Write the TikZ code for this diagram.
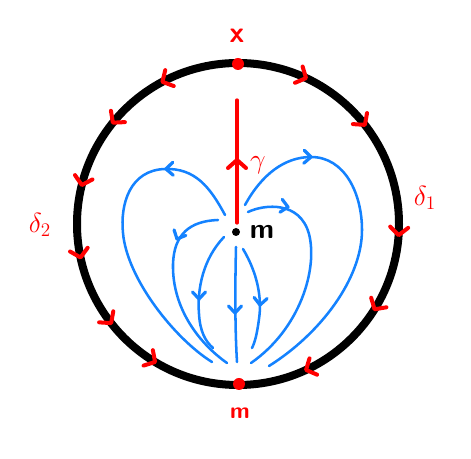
\documentclass[tikz,border=0pt]{standalone}
\usetikzlibrary{calc}
\definecolor{fieldblue}{RGB}{20,130,255}
\tikzset{
  redchev/.pic={\draw[red, line width=3pt, line cap=round, line join=round] (-8,9)--(0,0)--(-8,-9);},
  bluechev/.pic={\draw[fieldblue, line width=2.4pt, line cap=round, line join=round] (-7,6.5)--(0,0)--(-7,-6.5);},
  field/.style={fieldblue, line width=1.9pt, line cap=round},
  lbl/.style={inner sep=0pt, font=\sffamily\bfseries},
}
\begin{document}
\begin{tikzpicture}[x=0.75pt, y=0.75pt]
\useasboundingbox (0,0) rectangle (471,459);
\coordinate (c) at (238,235);
\coordinate (m) at (236,227);
% circle
\draw[line width=6pt] (c) circle[radius=161];
% red arrows along the circle
\foreach \a in {65,38,-4,-32,-65} \path (c) ++(\a:161) pic[rotate=\a-90] {redchev};
\foreach \a in {118,141,166,192,218,239} \path (c) ++(\a:161) pic[rotate=\a+90] {redchev};
% red points
\fill[red] (238,395) coordinate (top) circle[radius=6];
\fill[red] (239,75) coordinate (bot) circle[radius=6];
\node[lbl, red, font=\sffamily\bfseries\fontsize{22}{24}\selectfont] (xl) at (237,423) {x};
\node[lbl, red, font=\sffamily\bfseries\fontsize{17}{19}\selectfont] (ml) at (240,46) {m};
\node[lbl, red, font=\fontsize{20}{22}\selectfont] (d1) at (425,261) {$\delta_1$};
\node[lbl, red, font=\fontsize{20}{22}\selectfont] (d2) at (40,234) {$\delta_2$};
% red ray
\coordinate (rtop) at (237,359);
\draw[red, line width=2.4pt, line cap=round] (237,236) -- (rtop);
\path (237,299) pic[rotate=90] {redchev};
\node[lbl, red, font=\fontsize{20}{22}\selectfont] (g) at (258,294) {$\gamma$};
% field lines
\draw[field] (225,244) .. controls (210,272) and (195,291) .. (165,290)
  .. controls (130,289) and (120,255) .. (123,226)
  .. controls (127,180) and (175,120) .. (212,97);
\path (166,290) pic[rotate=182] {bluechev};
\draw[field] (245,254) .. controls (262,285) and (285,302) .. (311,302)
  .. controls (345,302) and (362,265) .. (362,229)
  .. controls (362,180) and (320,125) .. (269,93);
\path (311,302) pic[rotate=-2] {bluechev};
\draw[field] (218,239) .. controls (190,238) and (174,225) .. (173,195)
  .. controls (172,150) and (200,115) .. (227,96);
\path (177,220) pic[rotate=245] {bluechev};
\draw[field] (248,247) .. controls (265,255) and (300,258) .. (309,225)
  .. controls (318,190) and (300,130) .. (251,96);
\path (288,252) pic[rotate=-10] {bluechev};
\draw[field] (224,222) .. controls (203,200) and (197,170) .. (199,145)
  .. controls (200,128) and (205,118) .. (213,111);
\path (199,160) pic[rotate=-90] {bluechev};
\draw[field] (236,212) .. controls (235,170) and (235,130) .. (237,97);
\path (235,146) pic[rotate=-90] {bluechev};
\draw[field] (243,210) .. controls (258,185) and (262,160) .. (259,140)
  .. controls (257,125) and (255,117) .. (252,111);
\path (260,154) pic[rotate=-95] {bluechev};
% source point
\fill (m) circle[radius=4];
\node[lbl, font=\sffamily\bfseries\fontsize{21}{23}\selectfont] (mn) at (262,227) {m};
\end{tikzpicture}
\end{document}
